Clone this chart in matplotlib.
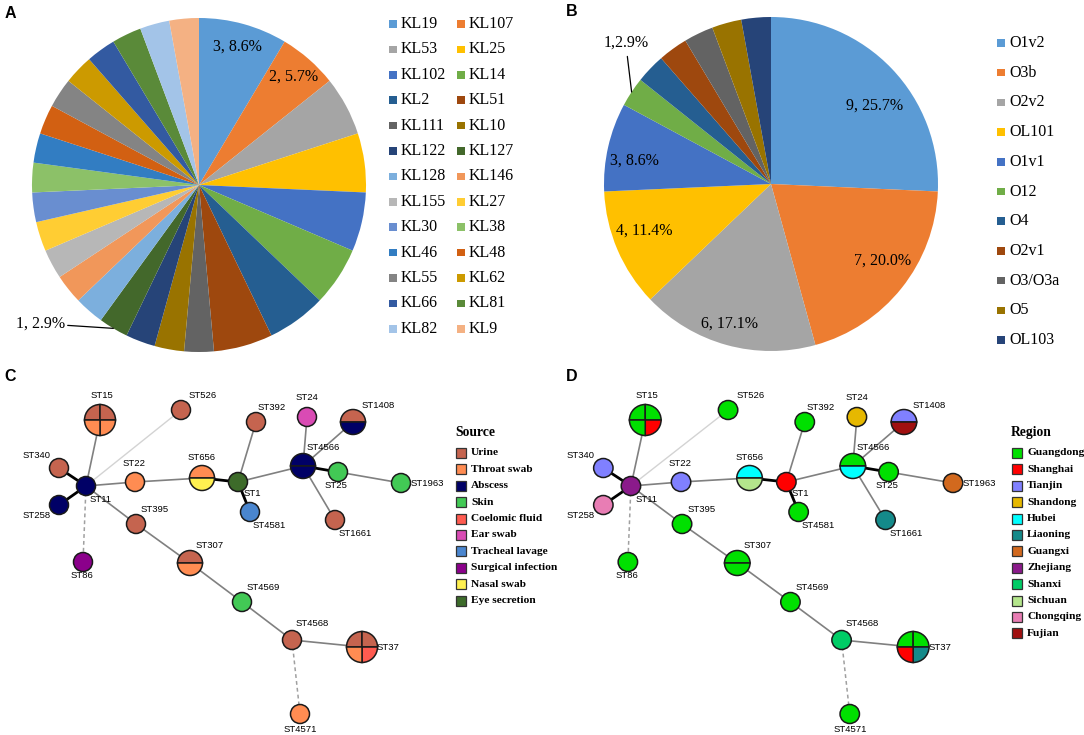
import numpy as np
import matplotlib.pyplot as plt
from matplotlib.patches import Wedge, Circle, Rectangle
from matplotlib.transforms import Affine2D

W, H = 1084, 735
SERIF = "Liberation Serif"
SANS = "Liberation Sans"

# ---------------- data: panel A (capsule KL types) ----------------
kl_names = ["KL19", "KL107", "KL53", "KL25", "KL102", "KL14", "KL2", "KL51",
            "KL111", "KL10", "KL122", "KL127", "KL128", "KL146", "KL155", "KL27",
            "KL30", "KL38", "KL46", "KL48", "KL55", "KL62", "KL66", "KL81",
            "KL82", "KL9"]
kl_counts = [3, 2, 2, 2, 2, 2, 2, 2,
             1, 1, 1, 1, 1, 1, 1, 1,
             1, 1, 1, 1, 1, 1, 1, 1,
             1, 1]
kl_colors = ["#5B9BD5", "#ED7D31", "#A5A5A5", "#FFC000", "#4472C4", "#70AD47",
             "#255E91", "#9E480E", "#636363", "#997300", "#264478", "#43682B",
             "#7CAFDD", "#F1975A", "#B7B7B7", "#FFCD33", "#698ED0", "#8CC168",
             "#327DC2", "#D26012", "#848484", "#CC9A00", "#335AA1", "#5A8A39",
             "#A3C4E8", "#F4B183"]

# ---------------- data: panel B (O types) ----------------
o_names = ["O1v2", "O3b", "O2v2", "OL101", "O1v1", "O12", "O4", "O2v1",
           "O3/O3a", "O5", "OL103"]
o_counts = [9, 7, 6, 4, 3, 1, 1, 1, 1, 1, 1]
o_colors = ["#5B9BD5", "#ED7D31", "#A5A5A5", "#FFC000", "#4472C4", "#70AD47",
            "#255E91", "#9E480E", "#636363", "#997300", "#264478"]

# ---------------- data: panels C / D (MST of STs) ----------------
st_names = ["ST15", "ST526", "ST392", "ST24", "ST1408", "ST4566", "ST25", "ST1963",
            "ST1661", "ST1", "ST4581", "ST656", "ST22", "ST11", "ST340", "ST258",
            "ST86", "ST395", "ST307", "ST4569", "ST4568", "ST37", "ST4571"]
st_x = [100, 181, 256, 307, 353, 303, 338, 401, 335, 238, 250, 202, 135, 86, 59, 59,
        83, 136, 190, 242, 292, 362, 300]
st_y = [420, 410, 422, 417, 422, 466, 472, 483, 520, 482, 512, 478, 482, 486, 468, 505,
        562, 524, 563, 602, 640, 647, 714]
lab_dx = [2, 22, 16, 0, 25, 20, -2, 26, 20, 14, 19, 0, -1, 15, -22, -22,
          -1, 19, 20, 21, 20, 26, 0]
lab_dy = [-24, -15, -15, -19, -16, -19, 14, 1, 13, 12, 13, -20, -18, 14, -13, 11,
          14, -15, -17, -15, -17, 0, 15]
# isolates per ST, order of pieces: top-left, top-right, bottom-right, bottom-left
st_source = [["Urine", "Urine", "Throat swab", "Throat swab"], ["Urine"], ["Urine"],
             ["Ear swab"], ["Urine", "Abscess"], ["Abscess", "Abscess"], ["Skin"],
             ["Skin"], ["Urine"], ["Eye secretion"], ["Tracheal lavage"],
             ["Throat swab", "Nasal swab"], ["Throat swab"], ["Abscess"], ["Urine"],
             ["Abscess"], ["Surgical infection"], ["Urine"], ["Urine", "Throat swab"],
             ["Skin"], ["Urine"], ["Urine", "Urine", "Coelomic fluid", "Throat swab"],
             ["Throat swab"]]
st_region = [["Guangdong", "Guangdong", "Shanghai", "Guangdong"], ["Guangdong"],
             ["Guangdong"], ["Shandong"], ["Tianjin", "Fujian"], ["Guangdong", "Hubei"],
             ["Guangdong"], ["Guangxi"], ["Liaoning"], ["Shanghai"], ["Guangdong"],
             ["Hubei", "Sichuan"], ["Tianjin"], ["Zhejiang"], ["Tianjin"], ["Chongqing"],
             ["Guangdong"], ["Guangdong"], ["Guangdong", "Guangdong"], ["Guangdong"],
             ["Shanxi"], ["Guangdong", "Guangdong", "Liaoning", "Shanghai"], ["Guangdong"]]
edges = [("ST11", "ST15", "g"), ("ST11", "ST526", "l"), ("ST11", "ST340", "k"),
         ("ST11", "ST258", "k"), ("ST11", "ST22", "g"), ("ST11", "ST86", "d"),
         ("ST11", "ST395", "g"), ("ST395", "ST307", "g"), ("ST307", "ST4569", "g"),
         ("ST4569", "ST4568", "g"), ("ST4568", "ST37", "g"), ("ST4568", "ST4571", "d"),
         ("ST22", "ST656", "g"), ("ST656", "ST1", "k"), ("ST1", "ST392", "g"),
         ("ST1", "ST4581", "k"), ("ST1", "ST4566", "g"), ("ST4566", "ST24", "g"),
         ("ST4566", "ST1408", "g"), ("ST4566", "ST25", "k"), ("ST4566", "ST1661", "g"),
         ("ST25", "ST1963", "g")]

source_names = ["Urine", "Throat swab", "Abscess", "Skin", "Coelomic fluid", "Ear swab",
                "Tracheal lavage", "Surgical infection", "Nasal swab", "Eye secretion"]
source_colors = ["#C5644F", "#FF8C52", "#000066", "#42C955", "#FF5B50", "#D94BB4",
                 "#4A86CF", "#8B008B", "#FFF050", "#3D6B2A"]
region_names = ["Guangdong", "Shanghai", "Tianjin", "Shandong", "Hubei", "Liaoning",
                "Guangxi", "Zhejiang", "Shanxi", "Sichuan", "Chongqing", "Fujian"]
region_colors = ["#00E000", "#FF0000", "#8080FF", "#E6B800", "#00FFFF", "#148A8A",
                 "#D2691E", "#8B1A8B", "#00CC66", "#B4E68C", "#E87DB4", "#A01010"]

fig = plt.figure(figsize=(W / 100, H / 100), dpi=100)
# pixel coordinates, origin top-left
pix = Affine2D().scale(1 / W, -1 / H).translate(0, 1) + fig.transFigure


def pie_panel(cx, cy, r, counts, colors):
    ax = fig.add_axes([(cx - r) / W, 1 - (cy + r) / H, 2 * r / W, 2 * r / H])
    wedges, _ = ax.pie(counts, colors=colors, startangle=90, counterclock=False,
                       wedgeprops=dict(linewidth=0))
    ax.set_xlim(-1, 1)
    ax.set_ylim(-1, 1)
    ax.set_aspect("equal")
    return ax, wedges


def mid_xy(w, rad, da=0.0):
    a = np.deg2rad((w.theta1 + w.theta2) / 2 + da)
    return rad * np.cos(a), rad * np.sin(a)


# ---- A
total_a = sum(kl_counts)
axA, wA = pie_panel(199, 185, 167, kl_counts, kl_colors)
for i in range(2):
    x, y = mid_xy(wA[i], 0.86)
    axA.text(x, y, f"{kl_counts[i]}, {100 * kl_counts[i] / total_a:.1f}%", ha="center",
             va="center", fontsize=11.5, family=SERIF)
x, y = mid_xy(wA[11], 1.0)
axA.annotate(f"{kl_counts[11]}, {100 * kl_counts[11] / total_a:.1f}%", xy=(x, y),
             xytext=(-0.95, -0.83), ha="center", va="center", fontsize=11.5, family=SERIF,
             annotation_clip=False,
             arrowprops=dict(arrowstyle="-", color="black", lw=0.9, shrinkA=0, shrinkB=0))

# legend A, two columns, row-wise
for i, (n, c) in enumerate(zip(kl_names, kl_colors)):
    col, row = i % 2, i // 2
    sx = 393 + col * 68
    sy = 24 + row * 25.4
    fig.add_artist(Rectangle((sx - 3.75, sy - 3.75), 7.5, 7.5, facecolor=c,
                             edgecolor="none", transform=pix))
    fig.text(sx + 8, sy, n, transform=pix, ha="left", va="center", fontsize=11.5,
             family=SERIF)

# ---- B
total_b = sum(o_counts)
axB, wB = pie_panel(771, 184, 167, o_counts, o_colors)
lab_r_b = [0.78, 0.81, 0.87, 0.81, 0.83]
lab_da_b = [-6.5, 4, -1, -3, 3]
for i in range(5):
    x, y = mid_xy(wB[i], lab_r_b[i], lab_da_b[i])
    axB.text(x, y, f"{o_counts[i]}, {100 * o_counts[i] / total_b:.1f}%", ha="center",
             va="center", fontsize=11.5, family=SERIF)
x, y = mid_xy(wB[5], 1.0)
axB.annotate(f"{o_counts[5]},{100 * o_counts[5] / total_b:.1f}%", xy=(x, y),
             xytext=(-0.87, 0.845), ha="center", va="center", fontsize=11.5, family=SERIF,
             annotation_clip=False,
             arrowprops=dict(arrowstyle="-", color="black", lw=0.9, shrinkA=2, shrinkB=0))

for i, (n, c) in enumerate(zip(o_names, o_colors)):
    sy = 43 + i * 29.7
    fig.add_artist(Rectangle((1001 - 3.75, sy - 3.75), 7.5, 7.5, facecolor=c,
                             edgecolor="none", transform=pix))
    fig.text(1009, sy, n, transform=pix, ha="left", va="center", fontsize=11.5,
             family=SERIF)


# ---- C / D networks
def net_panel(left, xscale, parts, cmap):
    ax = fig.add_axes([left / W, 0, 430 * xscale / W, 375 / H])
    ax.set_xlim(0, 430)
    ax.set_ylim(735, 360)
    ax.axis("off")
    idx = {n: i for i, n in enumerate(st_names)}
    for a, b, s in edges:
        xs = [st_x[idx[a]], st_x[idx[b]]]
        ys = [st_y[idx[a]], st_y[idx[b]]]
        if s == "k":
            ax.plot(xs, ys, color="black", lw=2.0, zorder=1)
        elif s == "l":
            ax.plot(xs, ys, color="#d3d3d3", lw=1.0, zorder=1)
        elif s == "d":
            ax.plot(xs, ys, color="#a0a0a0", lw=1.1, ls=(0, (2.5, 2)), zorder=1)
        else:
            ax.plot(xs, ys, color="#808080", lw=1.2, zorder=1)
    for i, n in enumerate(st_names):
        p = parts[i]
        k = len(p)
        r = 9.5 + 3 * np.log2(k)
        c = (st_x[i], st_y[i])
        if k == 1:
            ax.add_patch(Circle(c, r, facecolor=cmap[p[0]], edgecolor="#1a1a1a",
                                lw=1.1, zorder=3))
        else:
            for j, cat in enumerate(p):
                # screen angles, clockwise from 9 o'clock; y axis is inverted
                t2 = 180 - 360 * j / k
                t1 = 180 - 360 * (j + 1) / k
                ax.add_patch(Wedge(c, r, -t2, -t1, facecolor=cmap[cat],
                                   edgecolor="#1a1a1a", lw=1.1, zorder=3))
        ax.text(st_x[i] + lab_dx[i], st_y[i] + lab_dy[i], n, ha="center", va="center",
                fontsize=6.8, family=SANS, zorder=4)
    return ax


def side_legend(x0, title, names, colors):
    fig.text(x0, 433, title, transform=pix, ha="left", va="center", fontsize=9.8,
             family=SERIF, weight="bold")
    for i, (n, c) in enumerate(zip(names, colors)):
        sy = 453 + i * 16.4
        fig.add_artist(Rectangle((x0 + 1, sy - 5), 10, 10, facecolor=c,
                                 edgecolor="#333333", lw=0.9, transform=pix))
        fig.text(x0 + 16, sy, n, transform=pix, ha="left", va="center", fontsize=8.2,
                 family=SERIF, weight="bold")


src_map = dict(zip(source_names, source_colors))
reg_map = dict(zip(region_names, region_colors))
net_panel(0, 1.0, st_source, src_map)
net_panel(543, 1.0225, st_region, reg_map)
side_legend(455, "Source", source_names, source_colors)
side_legend(1011, "Region", region_names, region_colors)

# panel letters
for s, x, y in [("A", 10, 13), ("B", 572, 12), ("C", 10, 377), ("D", 572, 377)]:
    fig.text(x, y, s, transform=pix, ha="center", va="center", fontsize=11.5,
             family=SANS, weight="bold")

fig.savefig("out.png", dpi=100)
